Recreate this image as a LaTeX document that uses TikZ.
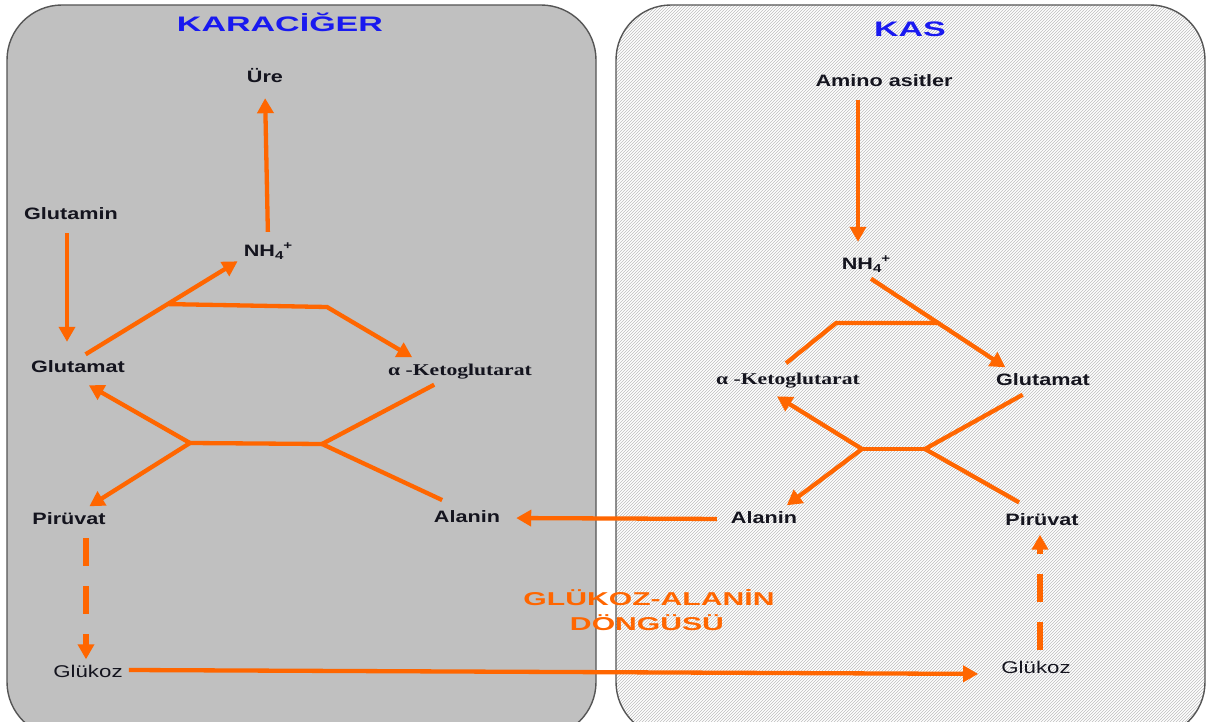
\documentclass[tikz,border=0pt]{standalone}
\usepackage{fontspec}
\setmainfont{Liberation Sans}[FakeStretch=1.31]
\newfontfamily\ketofont{Liberation Serif}[FakeStretch=1.31]
\newfontfamily\headfont{Liberation Sans}[FakeStretch=1.62]
\usetikzlibrary{arrows.meta,patterns,calc}

\definecolor{flow}{HTML}{FF6600}
\definecolor{titleblue}{RGB}{25,25,240}
\definecolor{liver}{RGB}{192,192,192}
\definecolor{boxedge}{RGB}{85,85,85}
\definecolor{hatch}{RGB}{190,190,190}
\definecolor{ink}{RGB}{20,20,30}

\newcommand{\ammonium}{NH\raisebox{-0.35ex}{\fontsize{11.5}{12}\selectfont 4}\raisebox{0.75ex}{\fontsize{11.5}{12}\selectfont +}}

\tikzset{
  lbl/.style={font=\fontsize{16.5}{18}\selectfont\bfseries, text=ink,
    text height=12pt, text depth=3pt, inner sep=6pt},
  plainlbl/.style={lbl, font=\fontsize{17}{18}\selectfont},
  ketolbl/.style={lbl, font=\fontsize{16.5}{18}\selectfont\ketofont\bfseries},
  head/.style={font=\fontsize{21}{24}\selectfont\headfont\bfseries, text=titleblue, anchor=base, inner sep=0pt},
  cyc/.style={font=\fontsize{18.6}{22}\selectfont\headfont\bfseries, text=flow, anchor=base, inner sep=0pt},
  organ/.style={draw=boxedge, line width=1.4pt, rounded corners=55pt},
  flowline/.style={draw=flow, line width=4.3pt},
  arr/.style={flowline, -{Triangle[length=15pt,width=16pt]}},
  dasharr/.style={arr, line width=6pt, dash pattern=on 28pt off 20pt},
}

\begin{document}
\begin{tikzpicture}[x=1pt,y=-1pt]
\useasboundingbox (0,0) rectangle (1208,722);
\clip (0,0) rectangle (1208,722);
\fill[white] (0,0) rectangle (1208,722);

% the two organ panels
\draw[organ, fill=liver] (7,5) rectangle (596,737);
\fill[white, rounded corners=55pt] (616,5) rectangle (1205,737);
\draw[organ, pattern=north east lines, pattern color=hatch] (616,5) rectangle (1205,737);

% panel titles and cycle name
\node[head] (liver) at (280,31.7) {KARACİĞER};
\node[head] (muscle) at (910,37) {KAS};
\node[cyc] (cycA) at (649,605) {GLÜKOZ-ALANİN};
\node[cyc] (cycB) at (647,630) {DÖNGÜSÜ};

% liver metabolites
\node[lbl] (ureL) at (265,78) {Üre};
\node[lbl] (glutaminL) at (71,215) {Glutamin};
\node[lbl] (nh4L) at (268,252) {\ammonium};
\node[lbl] (glutamatL) at (78,368) {Glutamat};
\node[ketolbl] (ketoL) at (460,371) {α -Ketoglutarat};
\node[lbl] (pirL) at (69,520) {Pirüvat};
\node[lbl] (alaL) at (467,518) {Alanin};
\node[plainlbl] (glukL) at (88,673) {Glükoz};

% muscle metabolites
\node[lbl] (aminoR) at (884,82) {Amino asitler};
\node[lbl] (nh4R) at (866,265) {\ammonium};
\node[ketolbl] (ketoR) at (788,380) {α -Ketoglutarat};
\node[lbl] (glutR) at (1043,381) {Glutamat};
\node[lbl] (alaR) at (764,519) {Alanin};
\node[lbl] (pirR) at (1042,521) {Pirüvat};
\node[plainlbl] (glukR) at (1036,669) {Glükoz};

% liver: ammonia release and urea
\draw[arr, shorten <=6.5pt, shorten >=6.5pt] (nh4L.north) -- (ureL.south);
\draw[arr, shorten <=4.5pt, shorten >=12.5pt]
  ([xshift=-4pt]glutaminL.south) -- ([xshift=-4pt]glutaminL.south |- glutamatL.north);
\draw[arr] (glutamatL.61) -- (nh4L.197);
\coordinate (brL) at ($(glutamatL.61)!0.54!(nh4L.197)$);
\coordinate (kinkL) at (327,307);
\draw[arr] (brL) -- (kinkL) -- (ketoL.164);

% liver: transamination of alanine
\coordinate (hubL1) at (190,443);
\coordinate (hubL2) at (322,444);
\draw[flowline] (hubL1) -- (hubL2);
\draw[arr, shorten >=7pt] (hubL1) -- (glutamatL.-71);
\draw[arr] (hubL1) -- (pirL.34);
\draw[flowline] (hubL2) -- (ketoL.208);
\draw[flowline, shorten >=10pt] (hubL2) -- (alaL.139);

% liver: gluconeogenesis
\draw[dasharr, shorten <=4.5pt]
  ([xshift=17pt]pirL.south) -- ([xshift=17pt]pirL.south |- glukL.north);

% exchange between the organs
\draw[arr, shorten >=17pt] ([yshift=3pt]glukL.east) -- ([yshift=-5pt]glukR.west);
\draw[arr, shorten <=8pt, shorten >=10pt] (alaR.west) -- (alaL.east);

% muscle: amino acid breakdown
\draw[arr, shorten <=4.5pt, shorten >=9.5pt]
  ([xshift=-26pt]aminoR.south) -- ([xshift=-26pt]aminoR.south |- nh4R.north);
\draw[arr] (nh4R.-70) -- (glutR.160);
\coordinate (brR) at ($(nh4R.-70)!0.5!(glutR.160)$);
\coordinate (kinkR) at ($(brR)+(-102,0)$);
\draw[flowline, shorten >=5pt] (brR) -- (kinkR) -- (ketoR.113);

% muscle: transamination of pyruvate
\coordinate (hubR1) at (862,449);
\coordinate (hubR2) at (925,449);
\draw[flowline] (hubR1) -- (hubR2);
\draw[arr, shorten >=5pt] (hubR1) -- (ketoR.222);
\draw[arr] (hubR1) -- (alaR.31);
\draw[flowline] (hubR2) -- (glutR.214);
\draw[flowline, shorten >=10pt] (hubR2) -- (pirR.136);

% muscle: glycolysis
\draw[dasharr, shorten <=5pt]
  ([xshift=4pt]glukR.north) -- ([xshift=4pt]glukR.north |- pirR.south);
\end{tikzpicture}
\end{document}
